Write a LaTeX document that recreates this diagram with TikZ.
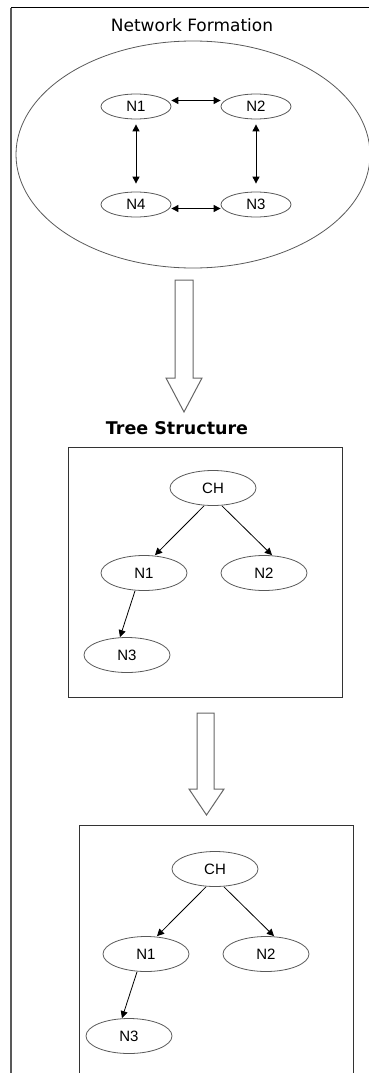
\documentclass[tikz,border=0pt]{standalone}
\usepackage{fontspec}
\setmainfont{Liberation Sans}
\newfontfamily\headfont{DejaVu Sans}
\usetikzlibrary{shapes.geometric,arrows.meta}

\begin{document}
\begin{tikzpicture}[x=1pt,y=-1pt]
	\tikzstyle{vertex} = [ellipse, minimum width=70pt, minimum height=25pt, inner sep=0pt, draw=black!65, line width=0.8pt, font=\fontsize{15}{15}\selectfont]
	\tikzstyle{tnode}  = [vertex, minimum width=86pt, minimum height=35pt]
	\tikzstyle{link}   = [{Triangle[length=7pt,width=7pt]}-{Triangle[length=7pt,width=7pt]}, line width=1pt]
	\tikzstyle{child}  = [-{Triangle[length=7pt,width=7pt]}, line width=0.8pt]
	\tikzstyle{bigarrow} = [draw=black!60, line width=1pt, fill=white, line join=miter]

	\useasboundingbox (0,0) rectangle (369,1073);
	\clip (0,0) rectangle (369,1073);

	% frame
	\draw[black!65, line width=1.3pt] (11,1080) -- (11,8);
	\draw[line width=1pt] (11,8) -- (375,8);

	% network formation
	\node[font=\headfont\fontsize{17}{17}\selectfont] (nettitle) at (192,25) {Network Formation};
	\node[ellipse, draw=black!65, line width=0.8pt, minimum width=354pt, minimum height=227pt] (net) at (193,154.5) {};

	\foreach \name/\x/\y/\lbl in {n1/136/106.5/N1, n2/256/106.5/N2, n3/256/204.5/N3, n4/136/204.5/N4}
		\node[vertex] (\name) at (\x, \y) {\lbl};

	\draw[link] ([yshift=6pt]n1.east) -- ([yshift=6pt]n2.west);
	\draw[link] ([yshift=-4pt]n4.east) -- ([yshift=-4pt]n3.west);
	\foreach \from/\to in {n1/n4, n2/n3}
		\draw[link, shorten <=5pt, shorten >=8pt] (\from.south) -- (\to.north);

	% block arrows
	\draw[bigarrow] (175,280) -- (193,280) -- (193,378) -- (202,378) -- (184,412) -- (166,378) -- (175,378) -- cycle;
	\draw[bigarrow] (197,713) -- (214,713) -- (214,789) -- (224,789) -- (206.5,815) -- (189,789) -- (197,789) -- cycle;

	% tree structure
	\node[font=\headfont\bfseries\fontsize{17.5}{17.5}\selectfont] (treetitle) at (177,428) {Tree Structure};
	\draw[black!80, line width=1pt] (68,447) rectangle (342,697);
	\draw[black!80, line width=1pt] (79,1090) -- (79,825) -- (353,825) -- (353,1090);

	\foreach \t/\x/\y in {a/213/488, b/215/869} {
		\node[tnode] (\t-ch) at (\x, \y) {CH};
		\node[tnode] (\t-n1) at ([shift={(-69,85)}]\t-ch) {N1};
		\node[tnode] (\t-n2) at ([shift={(51,85)}]\t-ch) {N2};
		\node[tnode] (\t-n3) at ([shift={(-86,167)}]\t-ch) {N3};
		\draw[child] ([xshift=-9pt]\t-ch.south) -- ([xshift=11pt]\t-n1.north);
		\draw[child] ([xshift=9pt]\t-ch.south) -- ([xshift=8pt]\t-n2.north);
		\draw[child] ([xshift=-9pt]\t-n1.south) -- ([xshift=-7pt]\t-n3.north);
	}
\end{tikzpicture}
\end{document}
